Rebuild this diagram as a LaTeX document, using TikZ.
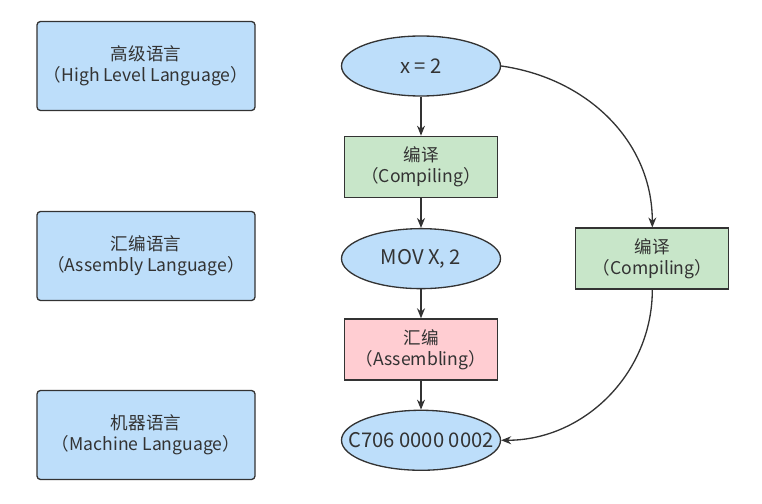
\documentclass[tikz,border=0pt]{standalone}
\usepackage{fontspec}
\setmainfont{Noto Sans CJK SC}
\usepackage{xcolor}
\usepackage{tikz}
\usetikzlibrary{shapes.geometric, arrows.meta, positioning}

\definecolor{langblue}{RGB}{189,222,250}
\definecolor{stepgreen}{RGB}{200,230,201}
\definecolor{steppink}{RGB}{255,205,210}
\definecolor{edgegray}{RGB}{51,51,51}

\begin{document}
\begin{tikzpicture}[
    level/.style={rectangle, rounded corners=2pt, draw=edgegray, fill=langblue, line width=0.75pt, minimum width=4.36cm, minimum height=1.78cm, align=center, text=edgegray, font=\fontsize{10}{12}\selectfont},
    code/.style={ellipse, draw=edgegray, fill=langblue, line width=0.75pt, minimum width=3.18cm, minimum height=1.2cm, inner sep=0pt, text=edgegray, font=\fontsize{11.5}{13}\selectfont},
    compile/.style={rectangle, draw=edgegray, fill=stepgreen, line width=0.75pt, minimum width=3.06cm, minimum height=1.22cm, align=center, text=edgegray, font=\fontsize{10}{12}\selectfont},
    assemble/.style={compile, fill=steppink},
    arrow/.style={-{Stealth[length=2mm, width=1.6mm]}, draw=edgegray, line width=0.75pt}
]
\useasboundingbox (0,0) rectangle (15.24,-10.08);

% Levels
\node[level] (high) at (2.92,-1.32) {高级语言\\（High Level Language）};
\node[level] (asm) at (2.92,-5.12) {汇编语言\\（Assembly Language）};
\node[level] (machine) at (2.92,-8.70) {机器语言\\（Machine Language）};

% Code
\node[code] (src) at (8.42,-1.32) {\makebox[0pt]{x = 2}};
\node[compile, below=0.78cm of src] (comp) {编译\\（Compiling）};
\node[code, below=0.6cm of comp] (mov) {\makebox[0pt]{MOV X, 2}};
\node[assemble, below=0.58cm of mov] (assm) {汇编\\（Assembling）};
\node[code, below=0.58cm of assm] (bin) {\makebox[0pt]{C706 0000 0002}};

% Direct compiling
\node[compile, right=1.48cm of mov] (direct) {编译\\（Compiling）};

% Arrows
\draw[arrow] (src) -- (comp);
\draw[arrow] (comp) -- (mov);
\draw[arrow] (mov) -- (assm);
\draw[arrow] (assm) -- (bin);
\draw[arrow] (src.east) to[out=-8, in=90] (direct.north);
\draw[arrow] (direct.south) to[out=-90, in=0] (bin.east);

\end{tikzpicture}
\end{document}
